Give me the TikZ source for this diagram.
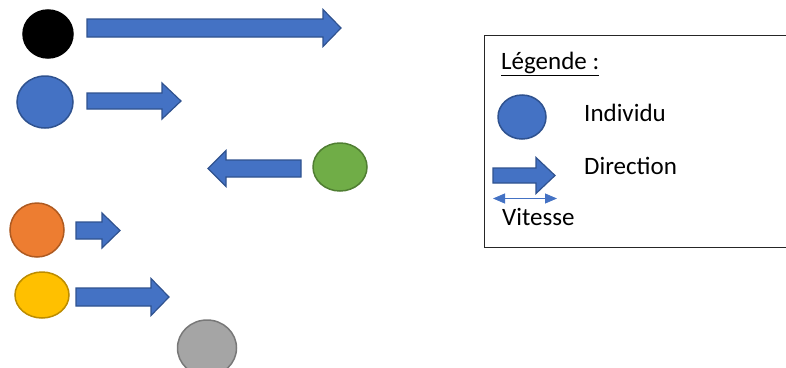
\documentclass[tikz,border=0pt]{standalone}
\usepackage{fontspec}
\setmainfont{Carlito}
\usetikzlibrary{shapes.geometric,arrows.meta}

\definecolor{indBlue}{HTML}{4472C4}
\definecolor{indBlueLine}{HTML}{2F528F}
\definecolor{indGreen}{HTML}{70AD47}
\definecolor{indGreenLine}{HTML}{507E32}
\definecolor{indOrange}{HTML}{ED7D31}
\definecolor{indOrangeLine}{HTML}{AE5A21}
\definecolor{indYellow}{HTML}{FFC000}
\definecolor{indYellowLine}{HTML}{BC8C00}
\definecolor{indGray}{HTML}{A5A5A5}
\definecolor{indGrayLine}{HTML}{787878}

% block arrow: tail x, tip x, centre y, shaft half height, head half height, head length
\newcommand{\blockarrow}[6]{%
  \pgfmathsetmacro{\hb}{#2>#1 ? #2-#6 : #2+#6}%
  \fill[indBlue, draw=indBlueLine, line width=1.2pt, line join=miter]
    (#1,#3-#4) -- (\hb,#3-#4) -- (\hb,#3-#5) -- (#2,#3) --
    (\hb,#3+#5) -- (\hb,#3+#4) -- (#1,#3+#4) -- cycle;}

\tikzset{
  individu/.style={ellipse, minimum width=#1, inner sep=0pt, line width=1.5pt},
  legtext/.style={anchor=base west, inner sep=0pt, font=\fontsize{25}{30}\selectfont},
}

\begin{document}
\begin{tikzpicture}[x=1pt, y=-1pt]
\useasboundingbox (0,0) rectangle (786,367);

% individuals
\node[individu=50pt, minimum height=48pt, fill=black, draw=black] (noir) at (48,34) {};
\node[individu=56pt, minimum height=52pt, fill=indBlue, draw=indBlueLine] (bleu) at (45,102) {};
\node[individu=54pt, minimum height=48pt, fill=indGreen, draw=indGreenLine] (vert) at (340,167) {};
\node[individu=54pt, minimum height=54pt, fill=indOrange, draw=indOrangeLine] (orange) at (37,230) {};
\node[individu=54pt, minimum height=46pt, fill=indYellow, draw=indYellowLine] (jaune) at (42,295) {};
\node[individu=59pt, minimum height=56pt, fill=indGray, draw=indGrayLine] (gris) at (207,348) {};

% directions and speeds
\blockarrow{87}{341}{28}{9}{18.5}{18}
\blockarrow{87}{181}{101}{8}{18}{19}
\blockarrow{301}{208}{168.5}{8.5}{18}{18}
\blockarrow{76}{120}{230.5}{8.5}{17.5}{18}
\blockarrow{76}{169}{297}{9}{18.5}{18}

% legend
\node[draw=black!85, line width=1.2pt, minimum width=302pt, minimum height=212pt, anchor=north west, inner sep=0pt] (legende) at (484,35) {};
\node[legtext] (titre) at (501,69.5) {\underline{Légende :}};
\node[individu=48pt, minimum height=44pt, fill=indBlue, draw=indBlueLine] (legind) at (522,117) {};
\node[legtext] (tind) at (584,121.5) {Individu};
\blockarrow{493}{555}{175.5}{7.5}{18}{19}
\node[legtext] (tdir) at (584,174.3) {Direction};
\coordinate (va) at (493,198.5);
\coordinate (vb) at (557,198.5);
\draw[indBlue, line width=0.9pt, {Triangle[length=12pt,width=10pt]}-{Triangle[length=12pt,width=10pt]}] (va) -- (vb);
\node[legtext] (tvit) at (502,225) {Vitesse};
\end{tikzpicture}
\end{document}
